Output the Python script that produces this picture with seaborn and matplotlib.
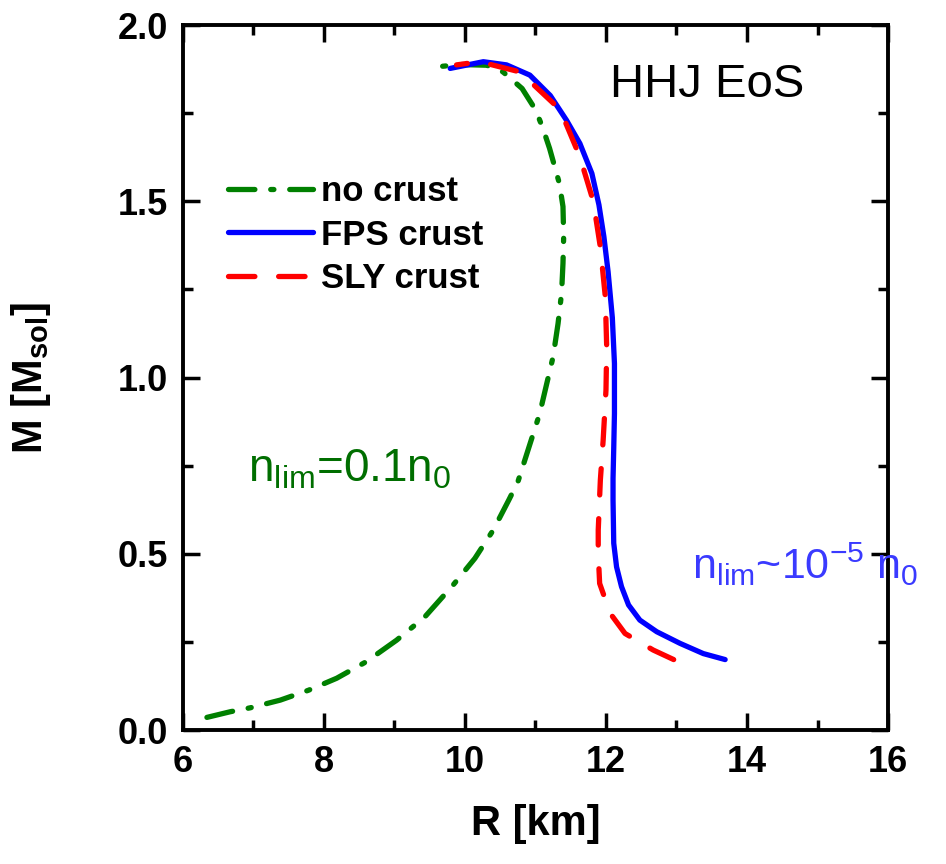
import matplotlib
matplotlib.use("Agg")
import matplotlib.pyplot as plt
import seaborn as sns
import numpy as np

# ---- data ----
R_nocrust = [6.34, 6.67, 6.95, 7.38, 7.78, 8.18, 8.60, 9.03, 9.43, 9.83, 10.14, 10.40, 10.62,
             10.75, 10.94, 11.06, 11.16, 11.25, 11.32, 11.37, 11.39, 11.40, 11.39, 11.34,
             11.20, 11.10, 11.00, 10.81, 10.54, 10.31, 9.95, 9.62]
M_nocrust = [0.036, 0.052, 0.063, 0.085, 0.113, 0.147, 0.194, 0.255, 0.321, 0.411, 0.487, 0.567, 0.652,
             0.704, 0.823, 0.898, 0.983, 1.059, 1.153, 1.239, 1.324, 1.40, 1.485, 1.55,
             1.65, 1.71, 1.76, 1.82, 1.867, 1.886, 1.888, 1.882]

R_fps = [13.69, 13.38, 13.05, 12.72, 12.48, 12.32, 12.22, 12.15, 12.11, 12.10, 12.10, 12.11,
         12.12, 12.12, 12.09, 12.03, 11.97, 11.90, 11.80, 11.63, 11.44, 11.21, 10.92, 10.59, 10.26, 9.79]
M_fps = [0.200, 0.217, 0.246, 0.279, 0.312, 0.355, 0.407, 0.463, 0.530, 0.652, 0.714, 0.80,
         0.898, 1.040, 1.170, 1.300, 1.400, 1.490, 1.579, 1.664, 1.73, 1.80, 1.858, 1.887, 1.896, 1.877]

R_sly = [12.96, 12.67, 12.27, 12.06, 11.91, 11.89, 11.89, 11.92, 11.96, 12.00, 12.01, 11.99,
         11.92, 11.82, 11.63, 11.35, 10.78, 10.21, 9.88]
M_sly = [0.200, 0.227, 0.274, 0.331, 0.416, 0.50, 0.567, 0.709, 0.823, 0.965, 1.087, 1.23,
         1.37, 1.50, 1.626, 1.76, 1.867, 1.896, 1.887]

labels = ["no crust", "FPS crust", "SLY crust"]
x_ticks = [6, 8, 10, 12, 14, 16]
y_ticks = [0.0, 0.5, 1.0, 1.5, 2.0]

# ---- style ----
sns.set_theme(style="white")
plt.rcParams["font.family"] = ["Liberation Sans", "DejaVu Sans"]
plt.rcParams["mathtext.default"] = "regular"
for k in ["text.color", "axes.labelcolor", "xtick.color", "ytick.color", "axes.edgecolor"]:
    plt.rcParams[k] = "black"

fig = plt.figure(figsize=(9.46, 8.64), dpi=100)
ax = fig.add_axes([0.1934, 0.155, 0.7453, 0.816])

lw = 3.8
common = dict(sort=False, estimator=None, ax=ax, lw=lw,
              solid_joinstyle="round", dash_joinstyle="round",
              solid_capstyle="round", dash_capstyle="round")
sns.lineplot(x=R_nocrust, y=M_nocrust, color="#008000",
             linestyle=(0, (5.0, 3.0, 0.6, 3.0)), label=labels[0], **common)
sns.lineplot(x=R_fps, y=M_fps, color="#0000ff",
             linestyle="-", label=labels[1], **common)
sns.lineplot(x=R_sly, y=M_sly, color="#ff0000",
             linestyle=(0, (5.0, 4.5)), label=labels[2], **common)

ax.set_xlim(6, 16)
ax.set_ylim(0, 2.0)
ax.set_xticks(x_ticks)
ax.set_yticks(y_ticks)
ax.set_xticklabels([str(v) for v in x_ticks])
ax.set_yticklabels([f"{v:.1f}" for v in y_ticks])
ax.set_xticks(np.arange(7, 16, 2), minor=True)
ax.set_yticks(np.arange(0.25, 2.0, 0.5), minor=True)

for s in ax.spines.values():
    s.set_visible(True)
    s.set_color("black")
    s.set_linewidth(2.8)

ax.tick_params(which="both", direction="in", top=True, right=True, bottom=True, left=True,
               color="black", width=2.5)
ax.tick_params(which="major", length=12, labelsize=26, pad=11)
ax.tick_params(which="minor", length=7)
for lab in ax.get_xticklabels() + ax.get_yticklabels():
    lab.set_fontweight("bold")

ax.set_xlabel("R [km]", fontsize=30, fontweight="bold")
ax.set_ylabel("M [M$_{sol}$]", fontsize=30, fontweight="bold")
ax.xaxis.set_label_coords(0.5, -0.105)
ax.yaxis.set_label_coords(-0.185, 0.5)

leg = ax.legend(loc="upper left", bbox_to_anchor=(0.064, 0.787), frameon=False,
                borderpad=0, borderaxespad=0, handlelength=2.45, handletextpad=0.22,
                labelspacing=0.3, prop={"size": 25, "weight": "bold"})

ax.text(12.05, 1.83, "HHJ EoS", fontsize=34, color="black", ha="left", va="center")
ax.text(6.92, 0.74, "n$_{lim}$=0.1n$_{0}$", fontsize=33, color="#006e00", ha="left", va="center")
ax.text(13.22, 0.47, "n$_{lim}$~10$^{-5}$ n$_{0}$", fontsize=31, color="#3a3aff",
        ha="left", va="center", clip_on=False)

fig.savefig("out.png", dpi=100)
